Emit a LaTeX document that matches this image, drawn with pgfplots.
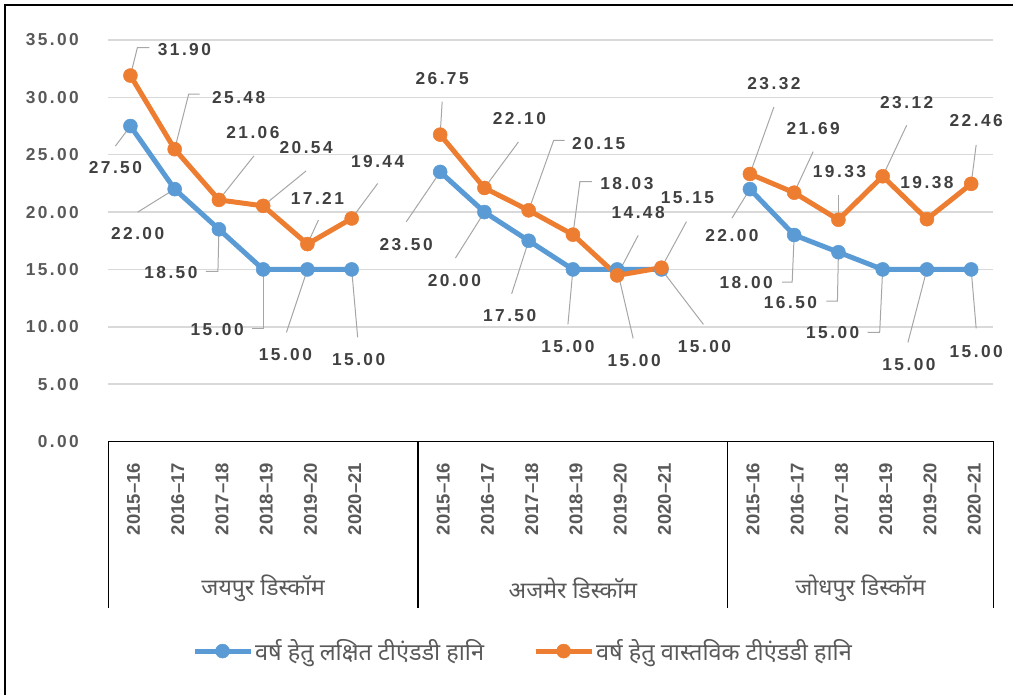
\documentclass[border=0pt]{standalone}
\usepackage{fontspec}
\setmainfont{Liberation Sans}
\newfontfamily\numfont[LetterSpace=14]{Liberation Sans}
\newfontfamily\deva[Script=Devanagari]{Noto Sans}
\usepackage{pgfplots}
\pgfplotsset{compat=1.18}
\definecolor{cblue}{HTML}{5B9BD5}
\definecolor{corange}{HTML}{ED7D31}
\definecolor{gridc}{HTML}{D9D9D9}
\definecolor{leadc}{HTML}{A6A6A6}
\definecolor{labc}{HTML}{404040}
\definecolor{tickc}{HTML}{595959}
\tikzset{
  leader/.style={draw=leadc, line width=1pt},
  lbl/.style={font=\numfont\bfseries\fontsize{17.3}{17.3}\selectfont, text=labc, inner sep=0pt},
}
\newcommand{\lead}[3]{\draw[leader] (axis cs:#1,#2) #3;}
\newcommand{\lbl}[5]{\node[lbl,xshift=#3pt,yshift=#4pt] at (axis cs:#1,#2) {#5};}
\begin{document}
\begin{tikzpicture}[x=1pt,y=1pt]
\useasboundingbox (0,0) rectangle (1013,695);
\draw[black, line width=2pt] (5,0) -- (5,690) -- (1013,690);
\begin{axis}[
  at={(108.3pt,253.5pt)}, anchor=south west,
  scale only axis, width=885pt, height=401.5pt,
  xmin=-0.5, xmax=19.5, ymin=0, ymax=35,
  clip=false,
  axis line style={draw=none},
  major tick length=0pt,
  ytick={0,5,10,15,20,25,30,35},
  ymajorgrids, grid style={gridc, line width=1.5pt},
  yticklabel={\pgfmathprintnumber[fixed,fixed zerofill,precision=2]{\tick}},
  /pgf/number format/assume math mode=true,
  yticklabel style={font=\numfont\bfseries\fontsize{17.3}{17.3}\selectfont, text=tickc, anchor=east, xshift=-26pt},
  xtick={0,1,2,3,4,5,7,8,9,10,11,12,14,15,16,17,18,19},
  xticklabels={2015–16,2016–17,2017–18,2018–19,2019–20,2020–21,2015–16,2016–17,2017–18,2018–19,2019–20,2020–21,2015–16,2016–17,2017–18,2018–19,2019–20,2020–21},
  xticklabel style={rotate=90, anchor=east, font=\bfseries\fontsize{18.5}{18.5}\selectfont, text=tickc, yshift=-3pt},
  xticklabel shift=18pt,
  legend style={at={(0.091,-0.522)}, anchor=west, draw=none, fill=none, legend columns=2,
    font=\deva\fontsize{23.5}{25}\selectfont, text=tickc,
    /tikz/every even column/.append style={column sep=47pt}},
  legend cell align=left,
  legend image code/.code={\draw[mark repeat=2,mark phase=2,#1] plot coordinates {(0pt,0pt) (28pt,0pt) (56pt,0pt)};},
  every axis plot/.append style={line width=5pt, mark=*, mark size=7pt},
]
% target series (blue)
\addplot[cblue, mark options={fill=cblue, draw=cblue, line width=0.5pt}] coordinates {(0,27.50) (1,22.00) (2,18.50) (3,15.00) (4,15.00) (5,15.00)};
\addlegendentry{वर्ष हेतु लक्षित टीएंडडी हानि}
\addplot[cblue, forget plot, mark options={fill=cblue, draw=cblue, line width=0.5pt}] coordinates {(7,23.50) (8,20.00) (9,17.50) (10,15.00) (11,15.00) (12,15.00)};
\addplot[cblue, forget plot, mark options={fill=cblue, draw=cblue, line width=0.5pt}] coordinates {(14,22.00) (15,18.00) (16,16.50) (17,15.00) (18,15.00) (19,15.00)};
% actual series (orange)
\addplot[corange, mark options={fill=corange, draw=corange, line width=0.5pt}] coordinates {(0,31.90) (1,25.48) (2,21.06) (3,20.54) (4,17.21) (5,19.44)};
\addlegendentry{वर्ष हेतु वास्तविक टीएंडडी हानि}
\addplot[corange, forget plot, mark options={fill=corange, draw=corange, line width=0.5pt}] coordinates {(7,26.75) (8,22.10) (9,20.15) (10,18.03) (11,14.48) (12,15.15)};
\addplot[corange, forget plot, mark options={fill=corange, draw=corange, line width=0.5pt}] coordinates {(14,23.32) (15,21.69) (16,19.33) (17,23.12) (18,19.38) (19,22.46)};

% category axis frame
\draw[black, line width=1.5pt] (axis cs:-0.5,0) -- (axis cs:19.5,0);
\draw[black, line width=1.3pt] (axis cs:-0.5,0) -- ++(0pt,-166.5pt);
\draw[black, line width=1.3pt] (axis cs:6.5,0) -- ++(0pt,-166.5pt);
\draw[black, line width=1.3pt] (axis cs:13.5,0) -- ++(0pt,-166.5pt);
\draw[black, line width=1.3pt] (axis cs:19.5,0) -- ++(0pt,-166.5pt);
\node[font=\deva\fontsize{23}{25}\selectfont, text=tickc] at (axis cs:3,0) [yshift=-146.5pt] {जयपुर डिस्कॉम};
\node[font=\deva\fontsize{23}{25}\selectfont, text=tickc] at (axis cs:10,0) [yshift=-146.5pt] {अजमेर डिस्कॉम};
\node[font=\deva\fontsize{23}{25}\selectfont, text=tickc] at (axis cs:16.5,0) [yshift=-146.5pt] {जोधपुर डिस्कॉम};

% Jaipur orange labels
\lead{0}{31.90}{-- ++(7pt,28pt) -- ++(12pt,0pt)} \lbl{0}{31.90}{54}{26}{31.90}
\lead{1}{25.48}{-- ++(14pt,55pt) -- ++(11pt,0pt)} \lbl{1}{25.48}{64}{52}{25.48}
\lead{2}{21.06}{-- ++(35pt,44pt)} \lbl{2}{21.06}{34}{67}{21.06}
\lead{3}{20.54}{-- ++(43pt,35pt)} \lbl{3}{20.54}{43}{58}{20.54}
\lead{4}{17.21}{-- ++(11pt,24pt)} \lbl{4}{17.21}{10}{46}{17.21}
\lead{5}{19.44}{-- ++(26pt,35pt)} \lbl{5}{19.44}{26}{57}{19.44}
% Jaipur blue labels
\lead{0}{27.50}{-- ++(-15pt,-20pt)} \lbl{0}{27.50}{-15}{-42}{27.50}
\lead{1}{22.00}{-- ++(-37pt,-23pt)} \lbl{1}{22.00}{-37}{-44}{22.00}
\lead{2}{18.50}{-- ++(-1pt,-42pt) -- ++(-12pt,0pt)} \lbl{2}{18.50}{-48}{-43}{18.50}
\lead{3}{15.00}{-- ++(0pt,-59pt) -- ++(-11pt,0pt)} \lbl{3}{15.00}{-46}{-60}{15.00}
\lead{4}{15.00}{-- ++(-21pt,-63pt)} \lbl{4}{15.00}{-22}{-85}{15.00}
\lead{5}{15.00}{-- ++(6pt,-68pt)} \lbl{5}{15.00}{7}{-90}{15.00}
% Ajmer orange labels
\lead{7}{26.75}{-- ++(2pt,33pt)} \lbl{7}{26.75}{2}{56}{26.75}
\lead{8}{22.10}{-- ++(34pt,46pt)} \lbl{8}{22.10}{35}{69}{22.10}
\lead{9}{20.15}{-- ++(25pt,70pt) -- ++(11pt,0pt)} \lbl{9}{20.15}{70}{67}{20.15}
\lead{10}{18.03}{-- ++(7pt,53pt) -- ++(12pt,0pt)} \lbl{10}{18.03}{54}{51}{18.03}
\lead{11}{14.48}{-- ++(21pt,40pt)} \lbl{11}{14.48}{21}{63}{14.48}
\lead{12}{15.15}{-- ++(25pt,46pt)} \lbl{12}{15.15}{26}{70}{15.15}
% Ajmer blue labels
\lead{7}{23.50}{-- ++(-34pt,-50pt)} \lbl{7}{23.50}{-34}{-73}{23.50}
\lead{8}{20.00}{-- ++(-29pt,-46pt)} \lbl{8}{20.00}{-30}{-68}{20.00}
\lead{9}{17.50}{-- ++(-17pt,-53pt)} \lbl{9}{17.50}{-19}{-75}{17.50}
\lead{10}{15.00}{-- ++(-5pt,-55pt)} \lbl{10}{15.00}{-5}{-77}{15.00}
\lead{11}{15.00}{-- ++(16pt,-69pt)} \lbl{11}{15.00}{17}{-91}{15.00}
\lead{12}{15.00}{-- ++(42pt,-55pt)} \lbl{12}{15.00}{43}{-77}{15.00}
% Jodhpur orange labels
\lead{14}{23.32}{-- ++(24pt,67pt)} \lbl{14}{23.32}{24}{90}{23.32}
\lead{15}{21.69}{-- ++(19pt,41pt)} \lbl{15}{21.69}{19}{64}{21.69}
\lead{16}{19.33}{-- ++(0pt,25pt)} \lbl{16}{19.33}{1}{48}{19.33}
\lead{17}{23.12}{-- ++(24pt,51pt)} \lbl{17}{23.12}{24}{74}{23.12}
\lbl{18}{19.38}{0}{37}{19.38}
\lead{19}{22.46}{-- ++(5pt,39pt)} \lbl{19}{22.46}{5}{63}{22.46}
% Jodhpur blue labels
\lead{14}{22.00}{-- ++(-18pt,-29pt)} \lbl{14}{22.00}{-18}{-46}{22.00}
\lead{15}{18.00}{-- ++(-2pt,-47pt) -- ++(-10pt,0pt)} \lbl{15}{18.00}{-48}{-48}{18.00}
\lead{16}{16.50}{-- ++(-1pt,-49pt) -- ++(-11pt,0pt)} \lbl{16}{16.50}{-48}{-50}{16.50}
\lead{17}{15.00}{-- ++(-3pt,-63pt) -- ++(-12pt,0pt)} \lbl{17}{15.00}{-50}{-63}{15.00}
\lead{18}{15.00}{-- ++(-19pt,-73pt)} \lbl{18}{15.00}{-18}{-95}{15.00}
\lead{19}{15.00}{-- ++(5pt,-59pt)} \lbl{19}{15.00}{5}{-82}{15.00}
\end{axis}
\end{tikzpicture}
\end{document}
